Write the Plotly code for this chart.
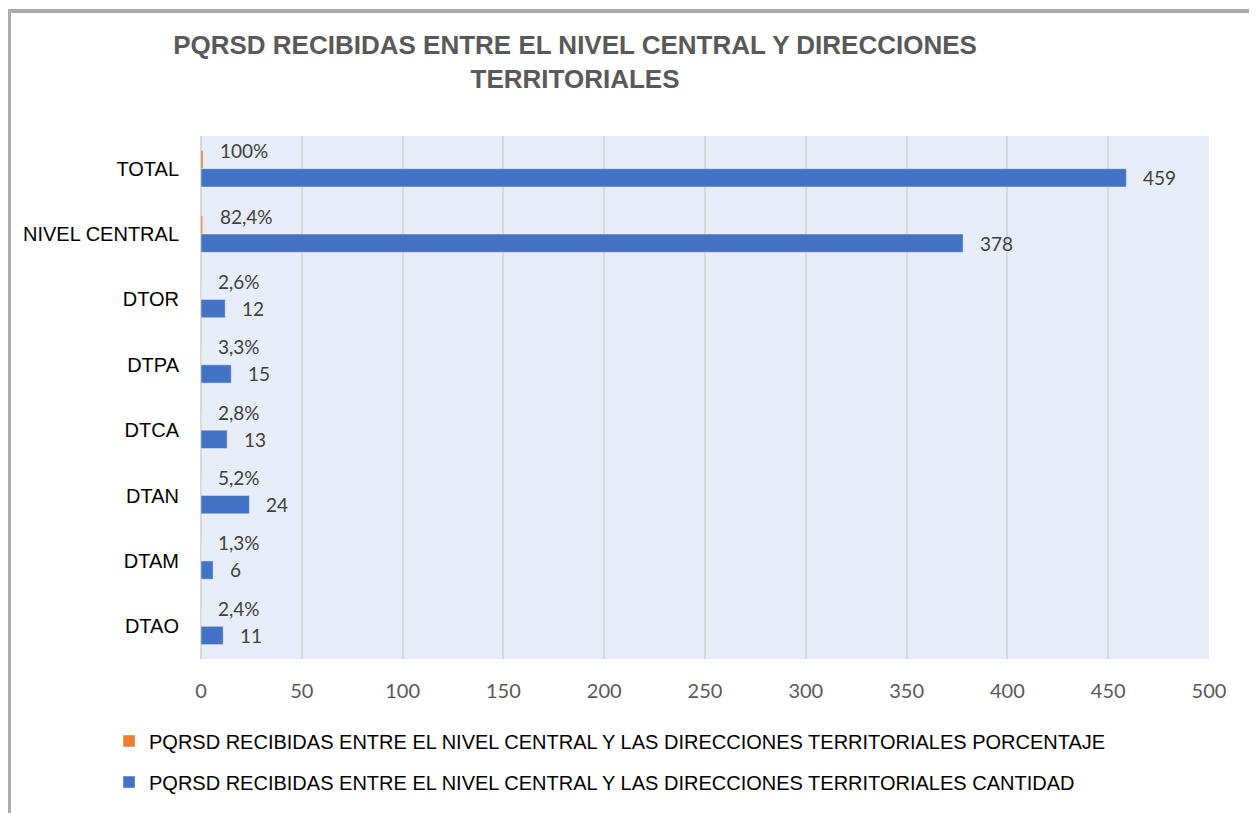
import plotly.graph_objects as go

categorias = ["TOTAL", "NIVEL CENTRAL", "DTOR", "DTPA", "DTCA", "DTAN", "DTAM", "DTAO"]
cantidad = [459, 378, 12, 15, 13, 24, 6, 11]
porcentaje = [1.0, 0.824, 0.026, 0.033, 0.028, 0.052, 0.013, 0.024]
etiquetas_pct = ["100%", "82,4%", "2,6%", "3,3%", "2,8%", "5,2%", "1,3%", "2,4%"]
ticks_x = [0, 50, 100, 150, 200, 250, 300, 350, 400, 450, 500]

serie_pct = "PQRSD RECIBIDAS ENTRE EL NIVEL CENTRAL Y LAS DIRECCIONES TERRITORIALES PORCENTAJE"
serie_cant = "PQRSD RECIBIDAS ENTRE EL NIVEL CENTRAL Y LAS DIRECCIONES TERRITORIALES CANTIDAD"

# la pagina pone la figura 8px a la derecha y abajo
W, H = 1249, 805
L, R, T, B = 193, 48, 128, 150
narrow = "Liberation Sans Narrow, Arial Narrow, Liberation Sans, Arial"
calib = "Lato, Open Sans, sans-serif"


def px_x(p):
    return (p - L) / (W - L - R)


def px_y(p):
    return (H - B - p) / (H - T - B)


fig = go.Figure()
fig.add_trace(go.Bar(y=categorias, x=porcentaje, orientation="h", name=serie_pct,
                     marker_color="#ED7D31", legendgroup="a"))
fig.add_trace(go.Bar(y=categorias, x=cantidad, orientation="h", name=serie_cant,
                     marker_color="#4472C4", legendgroup="b"))

# etiquetas de datos
for c, v, t in zip(categorias, porcentaje, etiquetas_pct):
    fig.add_annotation(x=v, y=c, text=t, showarrow=False, xanchor="left", yanchor="middle",
                       xshift=15, yshift=18, font=dict(family=calib, size=19, color="#404040"))
for c, v in zip(categorias, cantidad):
    fig.add_annotation(x=v, y=c, text=str(v), showarrow=False, xanchor="left", yanchor="middle",
                       xshift=15, yshift=-9, font=dict(family=calib, size=19, color="#404040"))

# borde del grafico
fig.add_shape(type="rect", xref="paper", yref="paper",
              x0=px_x(1), x1=px_x(1247), y0=px_y(830), y1=px_y(2),
              line=dict(color="#AFAAAA", width=4), fillcolor="rgba(0,0,0,0)", layer="below")

fig.update_layout(
    width=W, height=H,
    margin=dict(l=L, r=R, t=T, b=B),
    paper_bgcolor="white",
    plot_bgcolor="#E8EEF9",
    barmode="group",
    bargap=0.44,
    bargroupgap=0,
    title=dict(text="<b>PQRSD RECIBIDAS ENTRE EL NIVEL CENTRAL Y DIRECCIONES<br>TERRITORIALES</b>",
               x=px_x(567), xref="paper", xanchor="center",
               y=1 - 46 / H, yref="container", yanchor="top",
               font=dict(family=narrow, size=26, color="#595959")),
    legend=dict(x=px_x(101), y=px_y(718), xanchor="left", yanchor="top",
                orientation="v", traceorder="grouped", tracegroupgap=12,
                font=dict(family=narrow, size=20, color="black"),
                bgcolor="rgba(0,0,0,0)", itemwidth=30),
    font=dict(family=narrow),
)

fig.update_xaxes(range=[0, 500], tickvals=ticks_x, showgrid=True, gridcolor="#D9D9D9", gridwidth=2,
                 zeroline=True, zerolinecolor="#D9D9D9", zerolinewidth=2,
                 tickfont=dict(family=calib, size=20, color="#595959"),
                 ticklabelstandoff=18, fixedrange=True)
fig.update_yaxes(autorange="reversed", showgrid=False, ticklabelstandoff=21,
                 tickfont=dict(family=narrow, size=20, color="black"))

fig.write_html("out.html")
